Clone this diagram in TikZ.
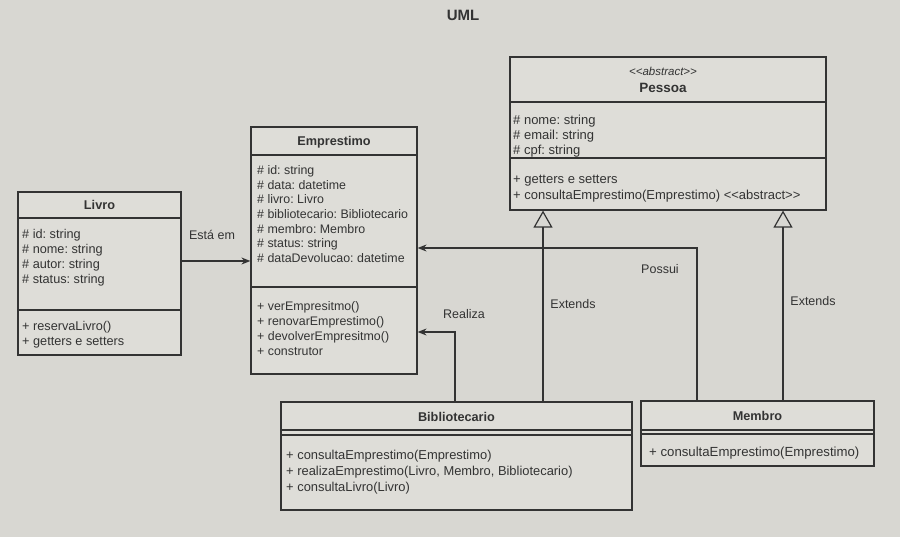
\documentclass[tikz,border=0pt]{standalone}
\usepackage{fontspec}
\setmainfont{Liberation Sans}
\usetikzlibrary{arrows.meta}
\definecolor{paper}{HTML}{D8D7D2}
\definecolor{boxfill}{HTML}{DEDDD8}
\definecolor{ink}{HTML}{333333}
\frenchspacing
\begin{document}
\begin{tikzpicture}[x=1pt,y=-1pt,
  cls/.style={draw=ink, line width=1.2pt, fill=boxfill, rectangle, inner sep=0pt},
  sep/.style={draw=ink, line width=1.2pt},
  txt/.style={text=ink, font=\fontsize{12.7}{15}\selectfont, align=left, inner sep=0pt, anchor=north west},
  txtb/.style={txt, font=\fontsize{13}{16}\selectfont},
  title/.style={text=ink, font=\fontsize{12.7}{15}\selectfont\bfseries, inner sep=0pt},
  lbl/.style={text=ink, font=\fontsize{12.5}{15}\selectfont, inner sep=0pt},
  conn/.style={draw=ink, line width=1.2pt},
  arr/.style={conn, -{Stealth[length=9pt,width=7pt]}},
  gen/.style={conn, -{Triangle[open,length=17pt,width=19pt,fill=paper]}}
]
\fill[paper] (0,0) rectangle (900,537);
\useasboundingbox (0,0) rectangle (900,537);

\node[text=ink, font=\fontsize{15}{18}\selectfont\bfseries, inner sep=0pt] (uml) at (463,15) {UML};

% Livro
\node[cls, minimum width=163pt, minimum height=163pt] (livro) at (99.5,273.5) {};
\draw[sep] (livro.west |- 0,218) -- (livro.east |- 0,218);
\draw[sep] (livro.west |- 0,310) -- (livro.east |- 0,310);
\node[title] (livro-t) at (99.5,205) {Livro};
\node[txt] (livro-a) at (22,229.5) {\# id: string\\\# nome: string\\\# autor: string\\\# status: string};
\node[txt] (livro-m) at (22,321) {+ reservaLivro()\\+ getters e setters};

% Emprestimo
\node[cls, minimum width=166pt, minimum height=247pt] (emp) at (334,250.5) {};
\draw[sep] (emp.west |- 0,155) -- (emp.east |- 0,155);
\draw[sep] (emp.west |- 0,287) -- (emp.east |- 0,287);
\node[title] (emp-t) at (334,142) {Emprestimo};
\node[txt, font=\fontsize{12.4}{14.6}\selectfont] (emp-a) at (257,165.5) {\# id: string\\\# data: datetime\\\# livro: Livro\\\# bibliotecario: Bibliotecario\\\# membro: Membro\\\# status: string\\\# dataDevolucao: datetime};
\node[txt, font=\fontsize{12.4}{15}\selectfont] (emp-m) at (257,301) {+ verEmpresitmo()\\+ renovarEmprestimo()\\+ devolverEmpresitmo()\\+ construtor};

% Pessoa
\node[cls, minimum width=316pt, minimum height=153pt] (pes) at (668,133.5) {};
\draw[sep] (pes.west |- 0,102) -- (pes.east |- 0,102);
\draw[sep] (pes.west |- 0,158) -- (pes.east |- 0,158);
\node[text=ink, font=\fontsize{11.5}{13}\selectfont\itshape, inner sep=0pt] (pes-s) at (663,71) {{<}{<}abstract{>}{>}};
\node[title, font=\fontsize{13.5}{16}\selectfont\bfseries] (pes-t) at (663,88) {Pessoa};
\node[txtb, font=\fontsize{13}{15}\selectfont] (pes-a) at (513,115) {\# nome: string\\\# email: string\\\# cpf: string};
\node[txtb] (pes-m) at (513,174.5) {+ getters e setters\\+ consultaEmprestimo(Emprestimo) {<}{<}abstract{>}{>}};

% Bibliotecario
\node[cls, minimum width=351pt, minimum height=108pt] (bib) at (456.5,456) {};
\draw[sep] (bib.west |- 0,430) -- (bib.east |- 0,430);
\draw[sep] (bib.west |- 0,435) -- (bib.east |- 0,435);
\node[title] (bib-t) at (456.5,417) {Bibliotecario};
\node[txt, font=\fontsize{12.9}{16}\selectfont] (bib-m) at (286,450) {+ consultaEmprestimo(Emprestimo)\\+ realizaEmprestimo(Livro, Membro, Bibliotecario)\\+ consultaLivro(Livro)};

% Membro
\node[cls, minimum width=233pt, minimum height=65pt] (mem) at (757.5,433.5) {};
\draw[sep] (mem.west |- 0,430) -- (mem.east |- 0,430);
\draw[sep] (mem.west |- 0,434) -- (mem.east |- 0,434);
\node[title] (mem-t) at (757.5,416) {Membro};
\node[txt, font=\fontsize{13.2}{16}\selectfont] (mem-m) at (649,447) {+ consultaEmprestimo(Emprestimo)};

% connectors
\coordinate (ya) at (0,261);
\draw[arr] (livro.east |- ya) -- (emp.west |- ya);
\node[lbl] (l1) at (212,235) {Está em};

\coordinate (rx) at (455,0);
\coordinate (ry) at (0,332);
\draw[arr] (bib.north -| rx) |- (emp.east |- ry);
\node[lbl] (l2) at (464,314) {Realiza};

\coordinate (px) at (697,0);
\coordinate (py) at (0,248);
\draw[arr] (mem.north -| px) |- (emp.east |- py);
\node[lbl] (l3) at (660,269) {Possui};

\coordinate (e1) at (543,0);
\draw[gen] (bib.north -| e1) -- (pes.south -| e1);
\node[lbl] (l4) at (573,304) {Extends};

\coordinate (e2) at (783,0);
\draw[gen] (mem.north -| e2) -- (pes.south -| e2);
\node[lbl] (l5) at (813,301) {Extends};
\end{tikzpicture}
\end{document}
